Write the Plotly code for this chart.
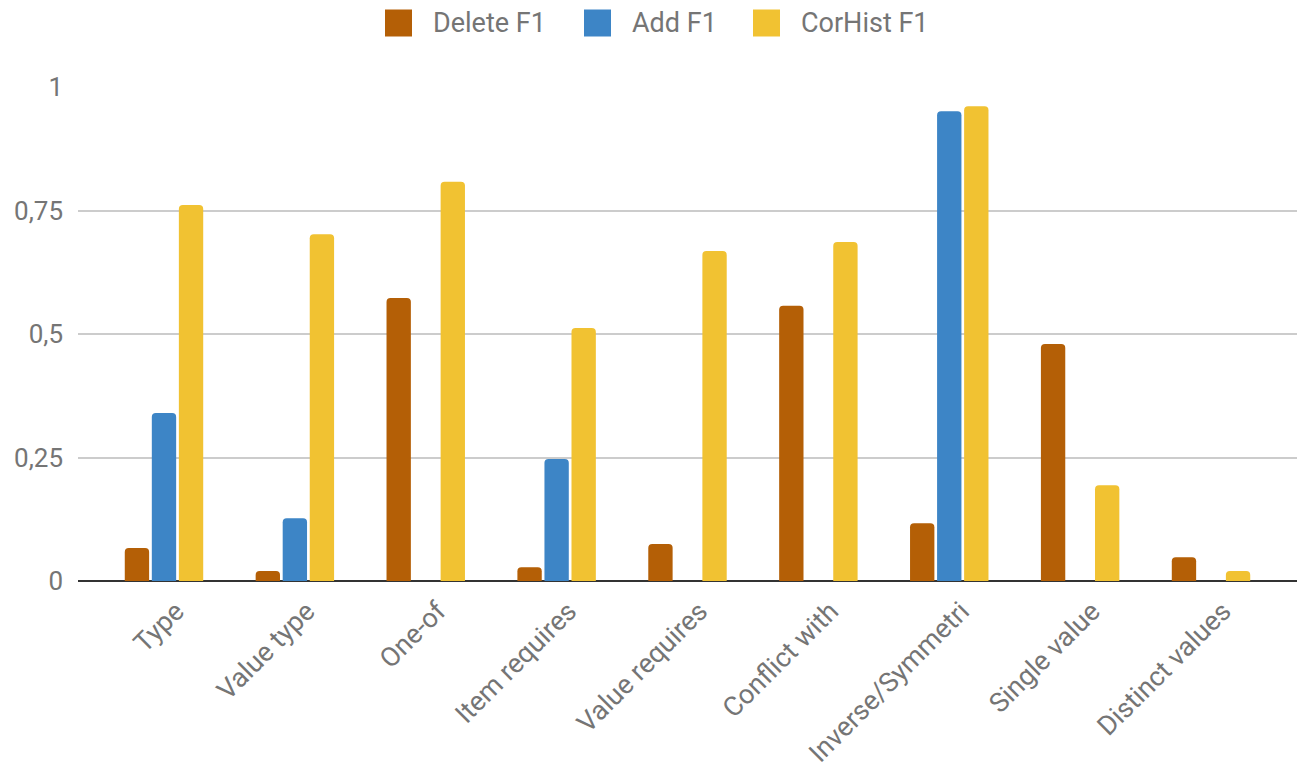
import plotly.graph_objects as go

categories = ["Type", "Value type", "One-of", "Item requires", "Value requires",
              "Conflict with", "Inverse/Symmetri", "Single value", "Distinct values"]
delete_f1 = [0.067, 0.020, 0.573, 0.028, 0.075, 0.557, 0.117, 0.480, 0.048]
add_f1 = [0.340, 0.127, 0.0, 0.247, 0.0, 0.0, 0.951, 0.0, 0.0]
corhist_f1 = [0.761, 0.702, 0.808, 0.512, 0.668, 0.686, 0.961, 0.194, 0.020]
y_ticks = [0, 0.25, 0.5, 0.75, 1]
y_tick_text = ["0", "0,25", "0,5", "0,75", "1"]

series = [
    ("Delete F1", delete_f1, "#b45f06"),
    ("Add F1", add_f1, "#3d85c6"),
    ("CorHist F1", corhist_f1, "#f1c232"),
]

W, H = 1299, 770
M_L, M_R, M_T, M_B = 78, 2, 87, 189
PW, PH = W - M_L - M_R, H - M_T - M_B


def px_x(px):
    return (px - M_L) / PW


def px_y(py):
    return (H - M_B - py) / PH


fig = go.Figure()
for name, vals, color in series:
    fig.add_trace(go.Bar(
        x=categories, y=vals, name=name, showlegend=False,
        marker=dict(color=color, cornerradius=4, line=dict(width=0)),
    ))

# custom top legend: large swatches followed by labels
legend_swatch_left = [385, 584, 753]
swatch = 27
legend_mid = 23
for (name, _, color), left in zip(series, legend_swatch_left):
    fig.add_shape(
        type="rect", xref="paper", yref="paper",
        x0=px_x(left), x1=px_x(left + swatch),
        y0=px_y(legend_mid + swatch / 2), y1=px_y(legend_mid - swatch / 2),
        fillcolor=color, line=dict(width=0), layer="above",
    )
    fig.add_annotation(
        xref="paper", yref="paper", x=px_x(left + swatch + 19), y=px_y(legend_mid),
        text=name, showarrow=False, xanchor="left", yanchor="middle",
        font=dict(size=27, color="#757575"),
    )

fig.update_layout(
    width=W, height=H,
    margin=dict(l=M_L, r=M_R, t=M_T, b=M_B, autoexpand=False),
    paper_bgcolor="white", plot_bgcolor="white",
    font=dict(family="Roboto", size=26, color="#757575"),
    barmode="group", bargap=0.38, bargroupgap=0.1,
    showlegend=False,
)
fig.update_xaxes(
    type="category", range=[-0.657, 8.657], tickangle=-45,
    showgrid=False, showline=False, ticks="", automargin=False,
    tickfont=dict(size=27, color="#757575"),
    ticklabelshift=12, ticklabelstandoff=8,
)
fig.update_yaxes(
    range=[0, 1.0], tickvals=y_ticks, ticktext=y_tick_text,
    showgrid=True, gridcolor="#cccccc", gridwidth=1.5,
    zeroline=True, zerolinecolor="#333333", zerolinewidth=2,
    showline=False, ticks="", automargin=False,
    tickfont=dict(size=26, color="#757575"),
    ticklabelstandoff=14,
)

fig.write_html("out.html")
